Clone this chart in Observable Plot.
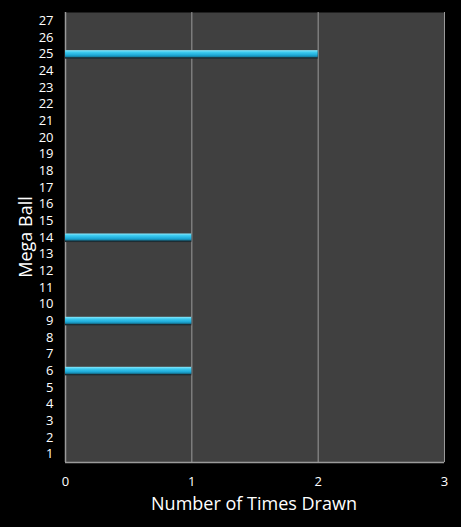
<!DOCTYPE html>
<html>
<head>
<meta charset="utf-8">
<script src="https://cdn.jsdelivr.net/npm/d3@7"></script>
<script src="https://cdn.jsdelivr.net/npm/@observablehq/plot@0.6"></script>
<style>
  html, body { margin: 0; padding: 0; background: #000; }
  #chart { width: 461px; height: 527px; }
</style>
</head>
<body>
<div id="chart"></div>
<script>
const balls = d3.range(1, 28).map(String);
const drawnBalls = ["6", "9", "14", "25"];
const drawnCounts = [1, 1, 1, 2];
const xTicks = [0, 1, 2, 3];

const data = drawnBalls.map((b, i) => ({ball: b, count: drawnCounts[i]}));

const defs = () => {
  const svg = d3.create("svg:defs");
  const g = svg.append("linearGradient").attr("id", "barGrad")
    .attr("x1", 0).attr("y1", 0).attr("x2", 0).attr("y2", 1);
  g.append("stop").attr("offset", "0%").attr("stop-color", "#8ee8fb");
  g.append("stop").attr("offset", "30%").attr("stop-color", "#3ccbf0");
  g.append("stop").attr("offset", "70%").attr("stop-color", "#1eaad8");
  g.append("stop").attr("offset", "100%").attr("stop-color", "#137898");
  return svg.node();
};

const chart = Plot.plot({
  width: 461,
  height: 527,
  marginLeft: 65,
  marginRight: 17,
  marginTop: 12,
  marginBottom: 65,
  style: {background: "#000", color: "#fff", fontFamily: "'Open Sans', sans-serif", fontSize: "13px"},
  x: {domain: [0, 3], ticks: xTicks, tickFormat: d3.format("d"), label: null, tickSize: 0, tickPadding: 14},
  y: {domain: balls.slice().reverse(), label: null, tickSize: 0, tickPadding: 12, padding: 0, round: false},
  marks: [
    defs,
    Plot.frame({fill: "#404040", stroke: null}),
    Plot.ruleX([1, 2, 3], {stroke: "#9a9a9a", strokeWidth: 1}),
    Plot.ruleX([0], {stroke: "#9a9a9a", strokeWidth: 1.5}),
    Plot.ruleY([0], {y: () => "1", dy: 8.33, stroke: "#9a9a9a", strokeWidth: 1.5}),
    Plot.barX(data, {x: "count", y: "ball", fill: "#1c2c33", insetTop: 5, insetBottom: 3.3}),
    Plot.barX(data, {x: "count", y: "ball", fill: "url(#barGrad)", insetTop: 4.8, insetBottom: 4.8})
  ]
});

const svg = d3.select(chart);
svg.append("text")
  .attr("x", 254).attr("y", 510)
  .attr("text-anchor", "middle")
  .attr("fill", "#fff")
  .style("font-family", "'Open Sans', sans-serif")
  .style("font-size", "18px")
  .text("Number of Times Drawn");
svg.append("text")
  .attr("transform", "translate(32,237) rotate(-90)")
  .attr("text-anchor", "middle")
  .attr("fill", "#fff")
  .style("font-family", "'Open Sans', sans-serif")
  .style("font-size", "18px")
  .text("Mega Ball");

document.getElementById("chart").appendChild(chart);
</script>
</body>
</html>
